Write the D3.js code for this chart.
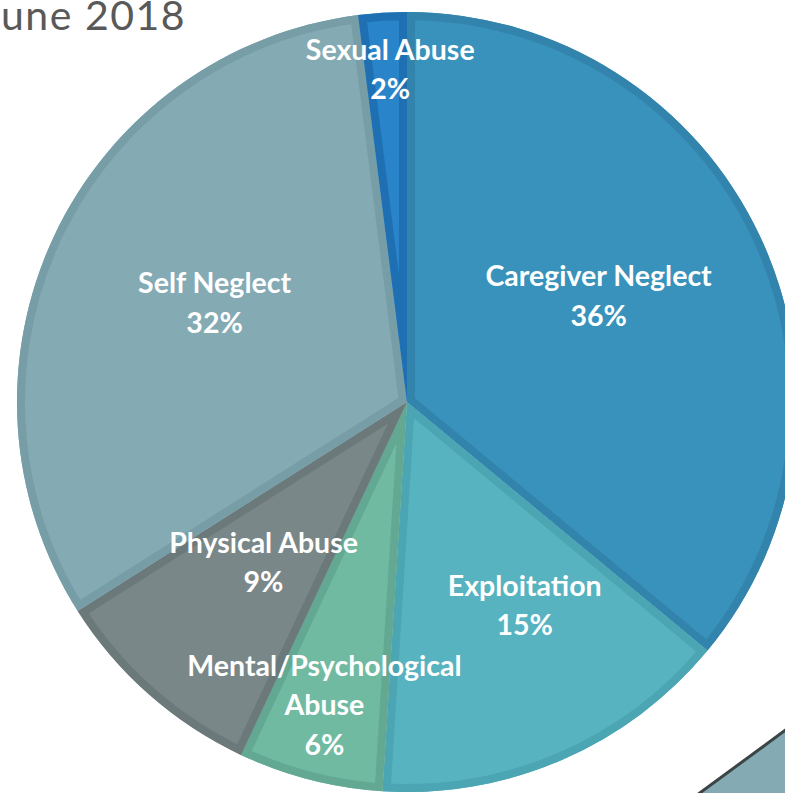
<!DOCTYPE html>
<html><head><meta charset="utf-8">
<script src="https://cdn.jsdelivr.net/npm/d3@7"></script>
<style>html,body{margin:0;padding:0;background:#fff;overflow:hidden}</style>
</head><body>
<svg id="chart" width="785" height="793"></svg>
<script>
const categories = ["Caregiver Neglect","Exploitation","Mental/Psychological Abuse","Physical Abuse","Self Neglect","Sexual Abuse"];
const values = [36, 15, 6, 9, 32, 2];
const labelLines = [["Caregiver Neglect"],["Exploitation"],["Mental/Psychological","Abuse"],["Physical Abuse"],["Self Neglect"],["Sexual Abuse"]];
const fills = ["#3892BC","#56B3BF","#70BAA2","#7A8788","#84AAB3","#2A84CA"];
const borders = ["#3384AC","#4BA5B2","#63A893","#6C797A","#779DA7","#1E70B2"];
const titleText = "une 2018";

const svg = d3.select("#chart");
const cx = 407, cy = 402, R = 390;

// title fragment (cropped in the reference)
svg.append("text").attr("x", 1).attr("y", 30).attr("text-anchor","start")
  .attr("font-family","Lato, 'Open Sans', sans-serif").attr("font-size", 41)
  .attr("letter-spacing", 1.5)
  .attr("fill","#595959").text(titleText);

const pie = d3.pie().sort(null).value(d => d)(values);
const arc = d3.arc().innerRadius(0).outerRadius(R);
const g = svg.append("g").attr("transform", `translate(${cx},${cy})`);
const defs = svg.append("defs");

pie.forEach((p, i) => {
  const path = arc(p);
  defs.append("clipPath").attr("id","clip"+i).append("path").attr("d", path);
  g.append("path").attr("d", path).attr("fill", fills[i]);
  g.append("path").attr("d", path).attr("fill","none")
    .attr("stroke", borders[i]).attr("stroke-width", 16)
    .attr("stroke-linejoin","miter").attr("clip-path", `url(#clip${i})`);
});

const labelR = [0.56, 0.56, 0.80, 0.44, 0.50, 0.89];
const labelOffset = [[-6,-13],[31,3],[-5,1],[-30,32],[-16,-16],[5,14]];
pie.forEach((p, i) => {
  const a = (p.startAngle + p.endAngle) / 2;
  const x = Math.sin(a) * R * labelR[i] + labelOffset[i][0];
  const y = -Math.cos(a) * R * labelR[i] + labelOffset[i][1];
  const lines = labelLines[i].concat([values[i] + "%"]);
  const t = g.append("text").attr("text-anchor","middle")
    .attr("font-family","Lato, 'Open Sans', sans-serif").attr("font-weight","bold")
    .attr("font-size", 28.5).attr("fill","#ffffff");
  const lh = 39.5;
  const y0 = y - (lines.length - 1) * lh / 2 + 10;
  lines.forEach((ln, j) => t.append("tspan").attr("x", x).attr("y", y0 + j * lh).text(ln));
});

// corner of neighbouring shape (bottom-right)
svg.append("path").attr("d","M697,795 L787,729 L787,795 Z")
  .attr("fill","#84AAB3").attr("stroke","#3C4545").attr("stroke-width",3);
</script>
</body></html>
